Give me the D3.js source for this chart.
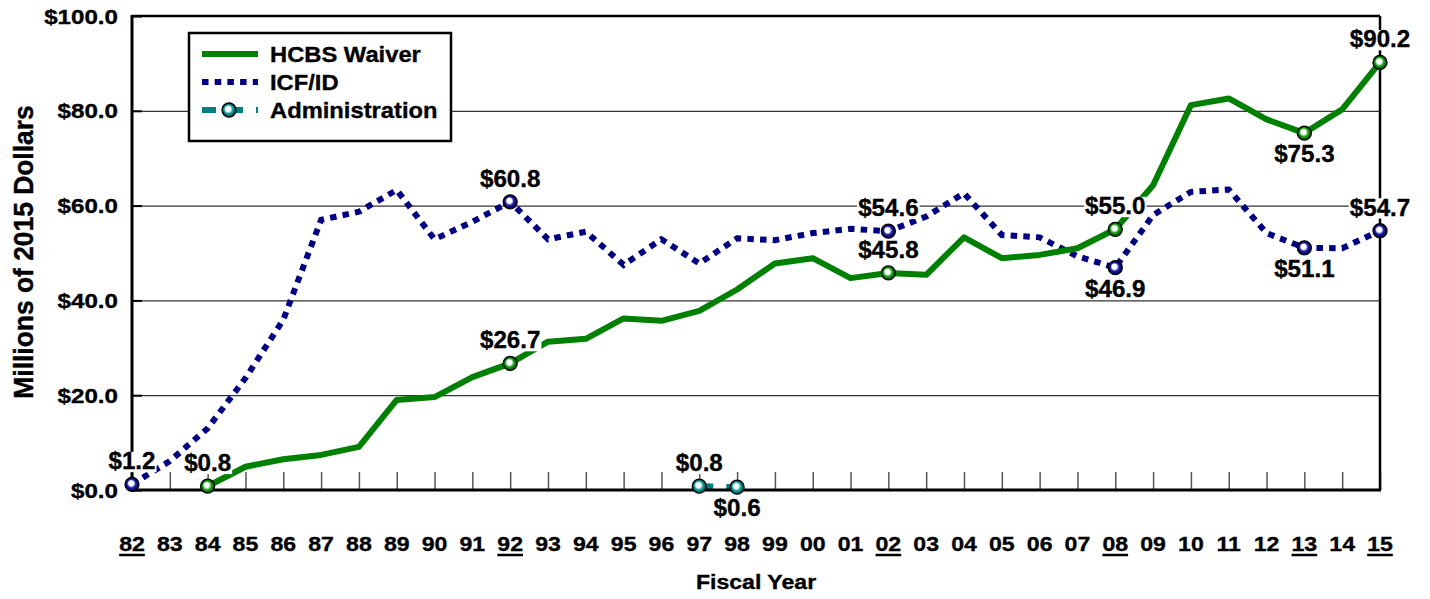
<!DOCTYPE html>
<html>
<head>
<meta charset="utf-8">
<script src="https://cdn.jsdelivr.net/npm/d3@7"></script>
<style>
body { margin: 0; background: #fff; }
text { font-family: "Liberation Sans", Arial, sans-serif; font-weight: bold; fill: #000; stroke: #000; stroke-width: 0.35px; }
</style>
</head>
<body>
<script>
// data
var years = ["82","83","84","85","86","87","88","89","90","91","92","93","94","95","96","97","98","99",
             "00","01","02","03","04","05","06","07","08","09","10","11","12","13","14","15"];
var underlinedYears = ["82","92","02","08","13","15"];

var hcbsValues = [null, null, 0.8, 4.9, 6.5, 7.4, 9.1, 19.0, 19.6, 23.8, 26.7, 31.3, 31.9, 36.2, 35.7, 37.8, 42.3, 47.8,
                  48.9, 44.7, 45.8, 45.4, 53.3, 48.9, 49.6, 51.0, 55.0, 64.3, 81.2, 82.6, 78.2, 75.3, 80.3, 90.2];
var icfValues  = [1.2, 6.1, 13.0, 23.6, 35.9, 57.0, 58.7, 63.3, 52.9, 56.6, 60.8, 52.9, 54.5, 47.5, 52.9, 47.8, 53.1, 52.7,
                  54.2, 55.1, 54.6, 57.7, 62.6, 53.8, 53.3, 49.3, 46.9, 58.0, 62.9, 63.4, 54.2, 51.1, 51.0, 54.7];
var adminYears  = ["97","98"];
var adminValues = [0.8, 0.6];

var hcbsLabeled  = ["84","92","02","08","13","15"];
var icfLabeled   = ["82","92","02","08","13","15"];
var adminLabeled = ["97","98"];

var yTicks = [0, 20, 40, 60, 80, 100];
var seriesNames = ["HCBS Waiver", "ICF/ID", "Administration"];

// label placement (below the marker instead of above)
var belowLabels = { hcbs: ["13"], icf: ["08","13"], admin: ["98"] };

var W = 1430, H = 599;
var plotL = 132, plotR = 1380, plotT = 16, plotB = 490;

var svg = d3.select("body").append("svg")
    .attr("width", W).attr("height", H);

var x = d3.scalePoint().domain(years).range([plotL, plotR]);
var y = d3.scaleLinear().domain([0, 100]).range([plotB, plotT]);
var fmt = function(v){ return "$" + d3.format(".1f")(v); };

// marker gradients
var defs = svg.append("defs");
function ballGradient(id, col, dark){
    var g = defs.append("radialGradient").attr("id", id)
        .attr("cx", "50%").attr("cy", "50%").attr("r", "50%")
        .attr("fx", "40%").attr("fy", "38%");
    g.append("stop").attr("offset", "0%").attr("stop-color", "#fff");
    g.append("stop").attr("offset", "35%").attr("stop-color", "#fff");
    g.append("stop").attr("offset", "62%").attr("stop-color", col);
    g.append("stop").attr("offset", "100%").attr("stop-color", dark);
}
ballGradient("ballGreen", "#18a018", "#004000");
ballGradient("ballNavy", "#1818a8", "#000040");
ballGradient("ballTeal", "#10a0a0", "#004040");

// gridlines
svg.append("g")
   .attr("transform", "translate(" + plotL + ",0)")
   .call(d3.axisLeft(y).tickValues(yTicks.slice(1, 5)).tickSize(-(plotR - plotL)).tickFormat(""))
   .call(function(g){
       g.select(".domain").remove();
       g.selectAll("line").attr("stroke", "#333").attr("stroke-width", 1.2);
   });

// x ticks (inward)
svg.append("g")
   .attr("transform", "translate(0," + plotB + ")")
   .call(d3.axisBottom(x).tickSize(-18).tickFormat(""))
   .call(function(g){
       g.select(".domain").remove();
       g.selectAll("line").attr("stroke", "#555").attr("stroke-width", 1.5);
   });

// y ticks (inward)
svg.append("g")
   .attr("transform", "translate(" + plotL + ",0)")
   .call(d3.axisLeft(y).tickValues(yTicks).tickSize(-10).tickFormat(""))
   .call(function(g){
       g.select(".domain").remove();
       g.selectAll("line").attr("stroke", "#000").attr("stroke-width", 2);
   });

// frame
svg.append("line").attr("x1", plotL).attr("x2", plotR).attr("y1", plotT).attr("y2", plotT)
   .attr("stroke", "#000").attr("stroke-width", 2.5);
svg.append("line").attr("x1", plotR).attr("x2", plotR).attr("y1", plotT).attr("y2", plotB)
   .attr("stroke", "#000").attr("stroke-width", 2.5);

// lines
var line = d3.line()
    .defined(function(d){ return d != null; })
    .x(function(d, i){ return x(years[i]); })
    .y(function(d){ return y(d); });

svg.append("path").attr("d", line(icfValues))
   .attr("fill", "none").attr("stroke", "#000080").attr("stroke-width", 6)
   .attr("stroke-dasharray", "6.5,6.2");

svg.append("path").attr("d", line(hcbsValues))
   .attr("fill", "none").attr("stroke", "#008000").attr("stroke-width", 6)
   .attr("stroke-linejoin", "round");

var adminLine = d3.line()
    .x(function(d, i){ return x(adminYears[i]); })
    .y(function(d){ return y(d); });
svg.append("path").attr("d", adminLine(adminValues))
   .attr("fill", "none").attr("stroke", "#008080").attr("stroke-width", 6)
   .attr("stroke-dasharray", "14,13");

// axes lines (drawn over lines)
svg.append("line").attr("x1", plotL).attr("x2", plotL).attr("y1", plotT - 1).attr("y2", plotB)
   .attr("stroke", "#000").attr("stroke-width", 3);
svg.append("line").attr("x1", plotL).attr("x2", plotR + 1).attr("y1", plotB).attr("y2", plotB)
   .attr("stroke", "#000").attr("stroke-width", 3);

// stretched text helper
function sText(parent, px, py, str, size, anchor, sx){
    return parent.append("text")
        .attr("transform", "translate(" + px + "," + py + ") scale(" + sx + ",1)")
        .attr("text-anchor", anchor)
        .style("font-size", size + "px")
        .text(str);
}

// y tick labels
yTicks.forEach(function(t){
    sText(svg, plotL - 14, y(t) + 7.5, fmt(t), 21, "end", 1.15);
});

// x labels
years.forEach(function(yr){
    var t = sText(svg, x(yr), 551, yr, 21, "middle", 1.1);
    if (underlinedYears.indexOf(yr) >= 0) {
        var w = t.node().getBBox().width * 1.1;
        svg.append("line").attr("x1", x(yr) - w / 2).attr("x2", x(yr) + w / 2)
           .attr("y1", 555).attr("y2", 555)
           .attr("stroke", "#000").attr("stroke-width", 2.5);
    }
});

// axis titles
sText(svg, 756, 589, "Fiscal Year", 21, "middle", 1.1);
svg.append("text")
   .attr("transform", "translate(33,252) rotate(-90) scale(1.1,1.13)")
   .attr("text-anchor", "middle")
   .style("font-size", "24px")
   .text("Millions of 2015 Dollars");

// data labels with white backing
function valueLabel(px, py, v, below){
    var g = svg.append("g")
        .attr("transform", "translate(" + px + "," + (below ? py + 29 : py - 15) + ") scale(1.05,1)");
    var t = g.append("text").attr("text-anchor", "middle").style("font-size", "23px").text(fmt(v));
    var b = t.node().getBBox();
    g.insert("rect", "text").attr("x", b.x - 1).attr("y", b.y + 3).attr("width", b.width + 2).attr("height", b.height - 5)
     .attr("fill", "#fff");
}

function addLabels(labeledYears, values, key){
    labeledYears.forEach(function(yr){
        var v = values[years.indexOf(yr)];
        valueLabel(x(yr), y(v), v, belowLabels[key].indexOf(yr) >= 0);
    });
}
addLabels(icfLabeled, icfValues, "icf");
addLabels(hcbsLabeled, hcbsValues, "hcbs");
adminLabeled.forEach(function(yr){
    var v = adminValues[adminYears.indexOf(yr)];
    valueLabel(x(yr), y(v), v, belowLabels.admin.indexOf(yr) >= 0);
});

// markers
function addMarkers(labeledYears, valueOf, grad){
    svg.selectAll(null).data(labeledYears).enter()
       .append("circle")
       .attr("cx", function(d){ return x(d); })
       .attr("cy", function(d){ return y(valueOf(d)); })
       .attr("r", 7)
       .attr("fill", "url(#" + grad + ")")
       .attr("stroke", "#000").attr("stroke-width", 1.3);
}
addMarkers(icfLabeled, function(d){ return icfValues[years.indexOf(d)]; }, "ballNavy");
addMarkers(hcbsLabeled, function(d){ return hcbsValues[years.indexOf(d)]; }, "ballGreen");
addMarkers(adminLabeled, function(d){ return adminValues[adminYears.indexOf(d)]; }, "ballTeal");

// legend
var lg = svg.append("g");
lg.append("rect").attr("x", 189).attr("y", 33).attr("width", 262).attr("height", 108)
  .attr("fill", "#fff").attr("stroke", "#000").attr("stroke-width", 2.5);
var legendY = [54, 82, 110];
lg.append("line").attr("x1", 202).attr("x2", 258).attr("y1", legendY[0]).attr("y2", legendY[0])
  .attr("stroke", "#008000").attr("stroke-width", 6);
lg.append("line").attr("x1", 202).attr("x2", 258).attr("y1", legendY[1]).attr("y2", legendY[1])
  .attr("stroke", "#000080").attr("stroke-width", 6).attr("stroke-dasharray", "6.5,6.2");
lg.append("line").attr("x1", 202).attr("x2", 258).attr("y1", legendY[2]).attr("y2", legendY[2])
  .attr("stroke", "#008080").attr("stroke-width", 6).attr("stroke-dasharray", "14,13");
lg.append("circle").attr("cx", 229).attr("cy", legendY[2]).attr("r", 7)
  .attr("fill", "url(#ballTeal)").attr("stroke", "#000").attr("stroke-width", 1.3);
seriesNames.forEach(function(n, i){
    sText(lg, 270, legendY[i] + 8, n, 22, "start", 1.08);
});
</script>
</body>
</html>
